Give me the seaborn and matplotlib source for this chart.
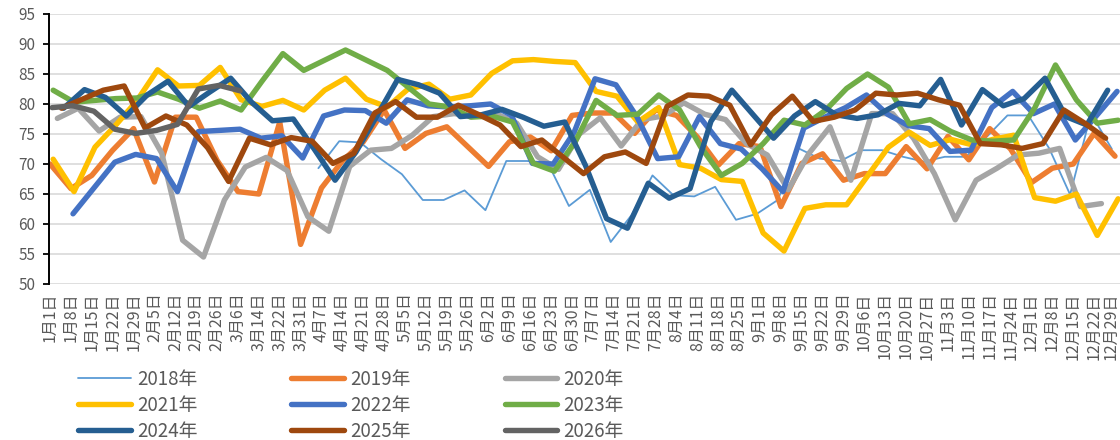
import matplotlib
matplotlib.use("Agg")
import matplotlib.pyplot as plt
import matplotlib.transforms as mtransforms
import seaborn as sns
import pandas as pd
import numpy as np

# weekly category labels on the x axis
dates = ["1月1日", "1月8日", "1月15日", "1月22日", "1月29日", "2月5日", "2月12日", "2月19日",
         "2月26日", "3月6日", "3月14日", "3月22日", "3月31日", "4月7日", "4月14日", "4月21日",
         "4月28日", "5月5日", "5月12日", "5月19日", "5月26日", "6月2日", "6月9日", "6月16日",
         "6月23日", "6月30日", "7月7日", "7月14日", "7月21日", "7月28日", "8月4日", "8月11日",
         "8月18日", "8月25日", "9月1日", "9月8日", "9月15日", "9月22日", "9月29日", "10月6日",
         "10月13日", "10月20日", "10月27日", "11月3日", "11月10日", "11月17日", "11月24日",
         "12月1日", "12月8日", "12月15日", "12月22日", "12月29日"]

years = ["2018年", "2019年", "2020年", "2021年", "2022年", "2023年", "2024年", "2025年", "2026年"]

# first week index of each series
start_week = {"2018年": 13, "2019年": 0, "2020年": 0, "2021年": 0, "2022年": 1,
              "2023年": 0, "2024年": 0, "2025年": 0, "2026年": 0}
# each year's sampling day sits a bit off the label (fraction of a week)
day_shift = {"2018年": -0.15, "2019年": 0.0, "2020年": 0.35, "2021年": 0.15, "2022年": 0.1,
             "2023年": 0.15, "2024年": 0.65, "2025年": 0.55, "2026年": 0.1}

v2018 = [69.3, 73.8, 73.6, 70.8, 68.3, 64.0, 64.0, 65.6, 62.3, 70.5, 70.5, 70.1, 63.0,
         65.7, 57.0, 61.5, 68.1, 64.8, 64.6, 66.2, 60.7, 61.7, 64.0, 72.6, 70.9, 70.5,
         72.3, 72.3, 71.2, 70.4, 71.2, 71.2, 74.5, 78.1, 78.1, 72.6, 64.9, 78.4, 72.5]
v2019 = [70.0, 65.9, 68.1, 72.3, 75.9, 67.0, 77.8, 77.8, 70.6, 65.4, 65.0, 77.0, 56.6,
         66.0, 70.5, 73.7, 79.0, 72.6, 75.1, 76.2, 72.9, 69.6, 73.7, 74.5, 72.2, 78.1,
         78.5, 78.5, 75.1, 79.0, 78.1, 74.5, 69.8, 73.4, 72.9, 62.9, 70.1, 71.7, 67.3,
         68.4, 68.4, 72.9, 69.2, 74.6, 70.7, 75.9, 72.5, 66.9, 69.3, 70.0, 75.1, 71.3]
v2020 = [77.6, 79.3, 75.5, 77.8, 77.9, 71.8, 57.3, 54.5, 64.0, 69.5, 71.1, 68.9, 61.2,
         58.8, 69.6, 72.3, 72.6, 74.8, 77.9, 78.4, 78.0, 78.4, 76.8, 71.2, 69.1, 75.0,
         77.7, 73.0, 77.4, 78.0, 80.2, 78.3, 77.4, 73.4, 71.5, 65.7, 71.8, 76.2, 67.3,
         78.4, 78.4, 74.3, 68.4, 60.7, 67.3, 69.3, 71.5, 71.8, 72.6, 62.9, 63.4]
v2021 = [70.8, 65.4, 72.8, 76.5, 80.5, 85.7, 83.0, 83.1, 86.1, 80.7, 79.6, 80.6, 79.0,
         82.3, 84.3, 80.8, 79.5, 82.5, 83.3, 80.8, 81.5, 85.1, 87.2, 87.4, 87.1, 86.9,
         82.1, 81.3, 77.0, 79.4, 69.9, 69.3, 67.4, 67.1, 58.5, 55.5, 62.6, 63.2, 63.2,
         68.0, 72.8, 75.3, 73.1, 74.1, 73.2, 74.1, 74.8, 64.4, 63.8, 65.0, 58.1, 64.2]
v2022 = [61.7, 66.0, 70.3, 71.6, 70.9, 65.4, 75.4, 75.6, 75.8, 74.3, 74.7, 71.0, 78.0,
         79.0, 78.9, 76.8, 80.7, 79.7, 79.5, 79.7, 80.0, 78.1, 70.1, 70.0, 75.3, 84.2,
         83.2, 77.9, 70.9, 71.2, 77.9, 73.4, 72.5, 69.2, 65.4, 76.0, 77.8, 79.4, 81.5,
         78.3, 76.4, 75.9, 72.1, 72.3, 79.4, 82.1, 78.4, 80.0, 74.0, 78.0, 82.1]
v2023 = [82.3, 80.3, 80.6, 80.9, 81.0, 82.0, 80.8, 79.3, 80.5, 79.0, 83.8, 88.4, 85.6,
         87.3, 89.0, 87.3, 85.6, 82.8, 80.0, 79.5, 77.8, 78.0, 77.0, 70.1, 68.8, 73.7,
         80.6, 78.1, 78.3, 81.5, 79.0, 72.9, 68.1, 70.1, 73.4, 77.3, 76.5, 79.0, 82.6,
         85.0, 82.8, 76.7, 77.4, 75.4, 74.0, 73.8, 74.0, 79.3, 86.5, 80.7, 76.8, 77.3]
v2024 = [79.3, 82.4, 81.1, 78.0, 81.5, 83.8, 79.6, 82.0, 84.3, 80.3, 77.2, 77.5, 72.5,
         67.3, 72.0, 78.0, 84.1, 83.2, 81.8, 77.9, 78.2, 79.1, 77.8, 76.3, 77.0, 69.7,
         60.9, 59.3, 66.8, 64.3, 65.9, 77.1, 82.3, 78.3, 74.3, 78.0, 80.4, 78.2, 77.6,
         78.2, 80.1, 79.7, 84.1, 76.5, 82.4, 79.7, 80.9, 84.3, 77.9, 76.5, 82.3]
v2025 = [79.3, 80.8, 82.3, 83.0, 76.0, 78.0, 76.5, 72.7, 67.1, 74.3, 73.2, 74.4, 73.8,
         70.1, 71.8, 78.5, 80.4, 77.8, 77.8, 79.8, 78.2, 76.5, 72.9, 74.0, 71.2, 68.4,
         71.2, 72.0, 70.1, 79.6, 81.5, 81.3, 79.8, 73.2, 78.2, 81.3, 77.1, 77.8, 79.0,
         81.8, 81.5, 81.8, 80.7, 79.8, 73.4, 73.2, 72.6, 73.4, 79.0, 76.8, 74.3]
v2026 = [79.4, 79.7, 78.8, 75.8, 75.1, 75.6, 76.6, 82.5, 83.1, 82.2]

values = {"2018年": v2018, "2019年": v2019, "2020年": v2020, "2021年": v2021,
          "2022年": v2022, "2023年": v2023, "2024年": v2024, "2025年": v2025, "2026年": v2026}

colors = {"2018年": "#5B9BD5", "2019年": "#ED7D31", "2020年": "#A5A5A5",
          "2021年": "#FFC000", "2022年": "#4472C4", "2023年": "#70AD47",
          "2024年": "#255E91", "2025年": "#9E480E", "2026年": "#636363"}

# long table: one row per weekly reading
rows = []
for y in years:
    for k, v in enumerate(values[y]):
        rows.append({"year": y, "week": start_week[y] + k + day_shift[y], "value": v})
df = pd.DataFrame(rows)

sns.set_style("white")
plt.rcParams["font.family"] = ["Noto Sans CJK SC", "DejaVu Sans"]

fig = plt.figure(figsize=(11.2, 4.4), dpi=100)
ax = fig.add_axes([49 / 1120, 1 - 284 / 440, 1071 / 1120, 270 / 440])

for y in years:
    lw = 1.3 if y == "2018年" else 3.9
    sns.lineplot(data=df[df["year"] == y], x="week", y="value", color=colors[y],
                 linewidth=lw, estimator=None, sort=False, label=y, ax=ax,
                 solid_capstyle="round", solid_joinstyle="round")

ax.set_xlim(-0.05, 51.24)
ax.set_ylim(50, 95)
ax.set_yticks(range(50, 100, 5))
ax.set_xticks(range(len(dates)))
ax.set_xticklabels(dates, rotation=90)
ax.set_xlabel("")
ax.set_ylabel("")

ax.grid(axis="y", color="#D9D9D9", linewidth=1.2)
ax.grid(axis="x", visible=False)
ax.set_axisbelow(True)
for s in ["top", "right", "bottom"]:
    ax.spines[s].set_visible(False)
ax.spines["left"].set_color("black")
ax.spines["left"].set_linewidth(1.4)
ax.tick_params(axis="y", length=4, width=1.3, color="black", direction="out",
               labelsize=11, labelcolor="#595959", pad=6, left=True)
ax.tick_params(axis="x", length=0, labelsize=11.5, labelcolor="#595959", pad=6)
# last date sits at the right edge; nudge it a few pixels inside the canvas
last = ax.get_xticklabels()[-1]
last.set_transform(last.get_transform()
                   + mtransforms.ScaledTranslation(-4 / 100, 0, fig.dpi_scale_trans))

# legend: three per row, row-major like the original
handles, labels = ax.get_legend_handles_labels()
if ax.get_legend() is not None:
    ax.get_legend().remove()
order = [0, 3, 6, 1, 4, 7, 2, 5, 8]
leg = fig.legend([handles[i] for i in order], [labels[i] for i in order],
                 loc="upper left", bbox_to_anchor=(78 / 1120, 1 - 369 / 440),
                 ncol=3, frameon=False, borderpad=0, borderaxespad=0,
                 handlelength=2.8, handletextpad=0.35, columnspacing=5.0,
                 labelspacing=0.26, prop={"size": 13.5})
for t in leg.get_texts():
    t.set_color("#595959")

fig.savefig("out.png", dpi=100)
